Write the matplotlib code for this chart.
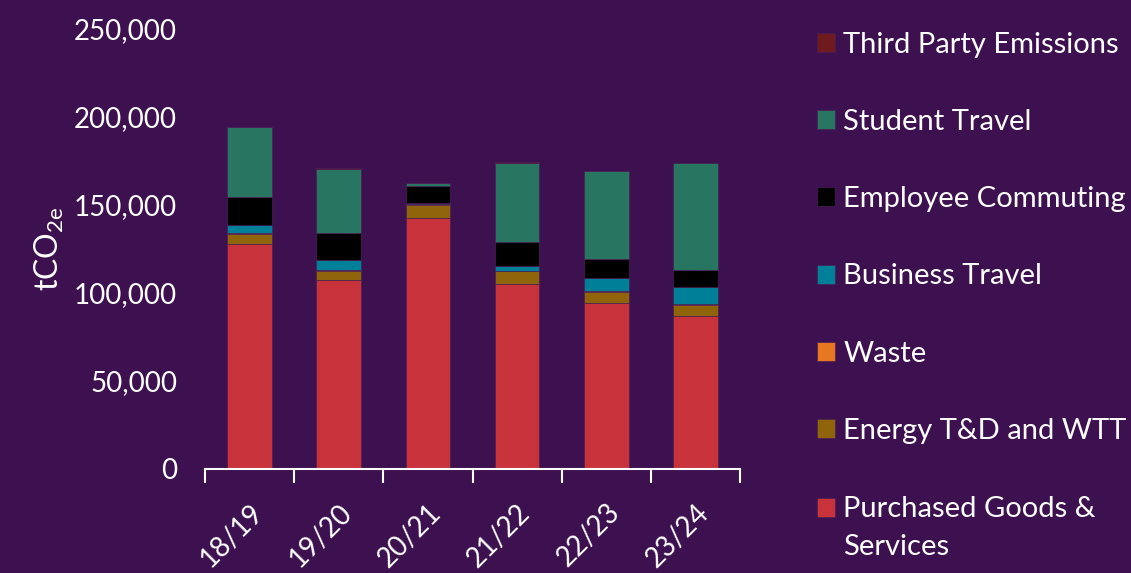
import numpy as np
import matplotlib
matplotlib.use("Agg")
import matplotlib.pyplot as plt
import matplotlib.transforms as mtransforms
from matplotlib.ticker import FuncFormatter, FixedLocator
from matplotlib.legend_handler import HandlerPatch

years = ['18/19', '19/20', '20/21', '21/22', '22/23', '23/24']

# tCO2e by scope 3 category, bottom of the stack first
purchased_goods = [127700, 106900, 142500, 104700, 94000, 86600]
energy_td_wtt = [5700, 5400, 7500, 7300, 6500, 6500]
waste = [300, 300, 300, 300, 300, 300]
business_travel = [4400, 6000, 300, 2700, 7400, 10000]
employee_commuting = [16300, 15000, 9900, 13600, 10600, 9300]
student_travel = [39500, 36800, 1500, 45200, 50000, 60700]
third_party = [300, 300, 300, 300, 300, 300]

series = [
    ('Purchased Goods &\nServices', purchased_goods, '#C8323A'),
    ('Energy T&D and WTT', energy_td_wtt, '#8F640A'),
    ('Waste', waste, '#E87722'),
    ('Business Travel', business_travel, '#007F99'),
    ('Employee Commuting', employee_commuting, '#000000'),
    ('Student Travel', student_travel, '#287562'),
    ('Third Party Emissions', third_party, '#6E1A1E'),
]

bg = '#3D1150'
plt.rcParams['font.family'] = ['Lato', 'DejaVu Sans']
plt.rcParams['mathtext.fontset'] = 'custom'
plt.rcParams['mathtext.rm'] = 'Lato'
plt.rcParams['mathtext.it'] = 'Lato'


class TopLineHandler(HandlerPatch):
    # keep the swatch level with the first line of a two-line label
    def __init__(self, shift, **kw):
        super().__init__(**kw)
        self.shift = shift

    def create_artists(self, legend, orig_handle, xdescent, ydescent,
                       width, height, fontsize, trans):
        arts = super().create_artists(legend, orig_handle, xdescent, ydescent,
                                      width, height, fontsize, trans)
        for a in arts:
            a.set_y(a.get_y() + self.shift)
        return arts


fig = plt.figure(figsize=(11.31, 5.73), dpi=100, facecolor=bg)
ax = fig.add_axes([205 / 1131, 1 - 468.5 / 573, 535 / 1131, 440 / 573])
ax.set_facecolor(bg)

x = np.arange(len(years))
bottom = np.zeros(len(years))
bars = []
for label, vals, color in series:
    b = ax.bar(x, vals, width=0.5, bottom=bottom, color=color, label=label,
               edgecolor='#4a1f55', linewidth=0.5)
    bars.append(b)
    bottom += np.array(vals)

ax.set_xlim(-0.5, len(years) - 0.5)
ax.set_ylim(0, 250000)
ax.set_yticks(np.arange(0, 250001, 50000))
ax.yaxis.set_major_formatter(FuncFormatter(lambda v, p: f'{int(v):,}'))
ax.set_xticks(x)
ax.set_xticklabels(years, rotation=45, ha='right', rotation_mode='anchor')
ax.xaxis.set_minor_locator(FixedLocator(np.arange(-0.5, len(years), 1)))
nudge = mtransforms.ScaledTranslation(-5 / 100, 0, fig.dpi_scale_trans)
for t in ax.get_xticklabels():
    t.set_transform(t.get_transform() + nudge)

for s in ['top', 'right', 'left']:
    ax.spines[s].set_visible(False)
ax.spines['bottom'].set_color('white')
ax.spines['bottom'].set_linewidth(1.5)

ax.tick_params(axis='y', length=0, pad=20, labelsize=20, labelcolor='white')
ax.tick_params(axis='x', which='major', length=0, pad=22, labelsize=20,
               labelcolor='white')
ax.tick_params(axis='x', which='minor', length=10, width=1.5, color='white')

ax.set_ylabel('tCO$_{2e}$', color='white', fontsize=23, labelpad=6)

handles = [b.patches[0] for b in bars][::-1]
labels = [s[0] for s in series][::-1]
leg = fig.legend(handles, labels, loc='upper left',
                 bbox_to_anchor=(817 / 1131, 1 - 31.5 / 573), frameon=False,
                 fontsize=21, handlelength=0.62, handleheight=0.62,
                 handletextpad=0.28, labelspacing=1.76, borderpad=0,
                 borderaxespad=0,
                 handler_map={handles[-1]: TopLineHandler(shift=14.5)})
for t in leg.get_texts():
    t.set_color('white')
leg.get_texts()[-1].set_linespacing(1.6)

fig.savefig('out.png', dpi=100, facecolor=bg)
